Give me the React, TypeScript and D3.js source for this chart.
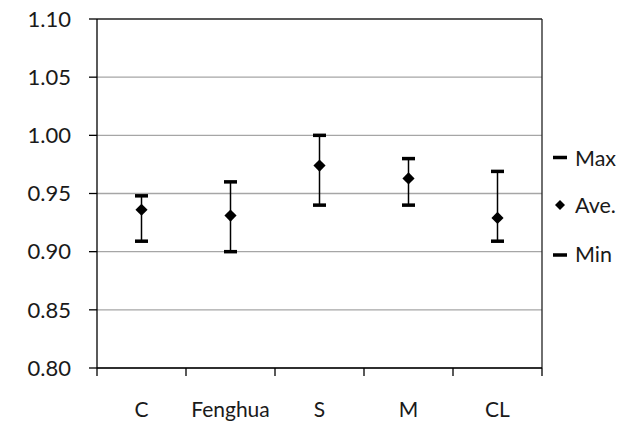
import React from "react";
import * as d3 from "d3";

const categories = ["C", "Fenghua", "S", "M", "CL"];
const maxValues = [0.948, 0.96, 1.0, 0.98, 0.969];
const aveValues = [0.936, 0.931, 0.974, 0.963, 0.929];
const minValues = [0.909, 0.9, 0.94, 0.94, 0.909];
const yTicks = [0.8, 0.85, 0.9, 0.95, 1.0, 1.05, 1.1];
const legendItems = ["Max", "Ave.", "Min"];

const W = 637;
const H = 424;
const left = 97;
const right = 542;
const top = 19;
const bottom = 368;
const font = "Lato, 'Open Sans', sans-serif";

export default function App() {
  React.useEffect(() => {
    document.body.style.margin = "0";
  }, []);
  const x = d3.scaleBand<string>().domain(categories).range([left, right]);
  const y = d3.scaleLinear().domain([0.8, 1.1]).range([bottom, top]);
  const diamond = d3.symbol(d3.symbolSquare, 74)() as string;
  const capW = 13;
  const capH = 3.5;
  const bandEdges = [...categories.map((c) => x(c) as number), right];

  return (
    <svg width={W} height={H} style={{ display: "block", background: "#fff" }}>
      {yTicks.map((t) => (
        <line key={"g" + t} x1={left} x2={right} y1={y(t)} y2={y(t)} stroke={t === 1.1 ? "#222" : "#a6a6a6"} strokeWidth={1.3} />
      ))}
      <line x1={right} x2={right} y1={top} y2={bottom} stroke="#222" strokeWidth={1.3} />
      <line x1={left} x2={left} y1={top} y2={bottom} stroke="#000" strokeWidth={1.3} />
      {yTicks.map((t) => (
        <g key={"yt" + t}>
          <line x1={89} x2={left} y1={y(t)} y2={y(t)} stroke="#000" strokeWidth={1.3} />
          <text x={71} y={y(t) + 7.8} textAnchor="end" fontFamily={font} fontSize={22} fill="#1a1a1a">
            {t.toFixed(2)}
          </text>
        </g>
      ))}
      <line x1={left} x2={right} y1={bottom} y2={bottom} stroke="#000" strokeWidth={1.3} />
      {bandEdges.map((e, i) => (
        <line key={"xt" + i} x1={e} x2={e} y1={bottom} y2={bottom + 8} stroke="#000" strokeWidth={1.3} />
      ))}
      {categories.map((c) => (
        <text key={"xl" + c} x={(x(c) as number) + x.bandwidth() / 2} y={416.5} textAnchor="middle" fontFamily={font} fontSize={21} fill="#1a1a1a">
          {c}
        </text>
      ))}
      {categories.map((c, i) => {
        const cx = (x(c) as number) + x.bandwidth() / 2;
        return (
          <g key={"eb" + c}>
            <line x1={cx} x2={cx} y1={y(maxValues[i])} y2={y(minValues[i])} stroke="#000" strokeWidth={1.5} />
            <rect x={cx - capW / 2} y={y(maxValues[i]) - capH / 2} width={capW} height={capH} fill="#000" />
            <rect x={cx - capW / 2} y={y(minValues[i]) - capH / 2} width={capW} height={capH} fill="#000" />
            <path d={diamond} transform={`translate(${cx},${y(aveValues[i])}) rotate(45)`} fill="#000" />
          </g>
        );
      })}
      {legendItems.map((l, i) => {
        const markY = [157.5, 205, 255][i];
        const textY = [166, 212.7, 261.7][i];
        return (
          <g key={"lg" + l}>
            {i === 1 ? (
              <path d={d3.symbol(d3.symbolSquare, 50)() as string} transform={`translate(560,${markY}) rotate(45)`} fill="#000" />
            ) : (
              <rect x={553} y={markY - 1.75} width={14} height={3.5} fill="#000" />
            )}
            <text x={575} y={textY} fontFamily={font} fontSize={21.5} fill="#1a1a1a">
              {l}
            </text>
          </g>
        );
      })}
    </svg>
  );
}
